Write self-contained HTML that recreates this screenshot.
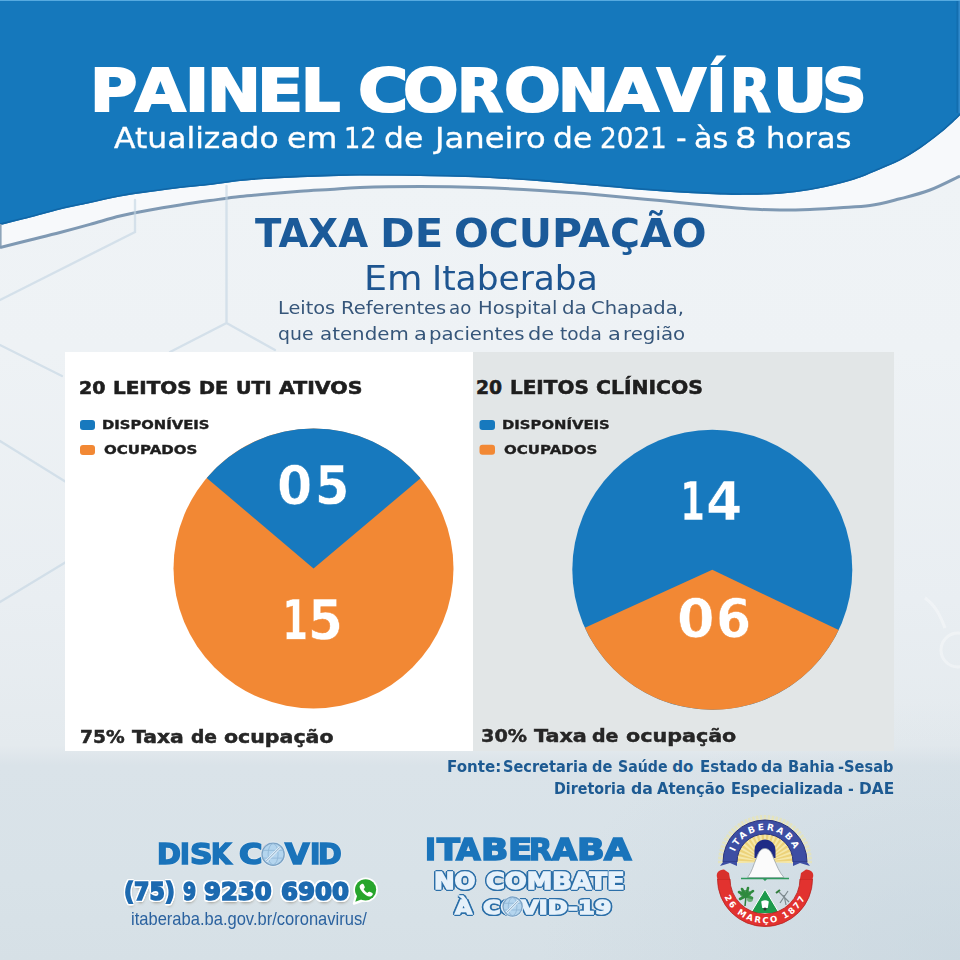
<!DOCTYPE html>
<html lang="pt-BR"><head><meta charset="utf-8"><title>Painel Coronavírus</title>
<style>
*{margin:0;padding:0;box-sizing:border-box}
html,body{width:960px;height:960px;overflow:hidden}
body{position:relative;background:radial-gradient(ellipse 420px 260px at 960px 960px,rgba(196,211,221,0.55),rgba(196,211,221,0) 100%),linear-gradient(180deg,#f0f4f7 0px,#eef2f5 350px,#e9eef2 600px,#e4eaee 745px,#dae3e9 765px,#d8e2e8 880px,#d6e0e6 960px);font-family:"Liberation Sans",sans-serif}
.t{position:absolute;white-space:nowrap;transform-origin:0 0}
svg.full{position:absolute;left:0;top:0}
.card{position:absolute}
</style></head><body>
<svg class="full" width="960" height="960" viewBox="0 0 960 960">
<path d="M0,225 C5.0,223.8 20.0,220.1 30.0,217.5 C40.0,214.9 50.0,211.9 60.0,209.5 C70.0,207.1 80.0,205.2 90.0,203.0 C100.0,200.8 110.0,198.3 120.0,196.5 C130.0,194.7 140.0,193.4 150.0,192.0 C160.0,190.6 170.0,189.2 180.0,188.0 C190.0,186.8 200.0,186.2 210.0,185.0 C220.0,183.8 230.0,182.0 240.0,181.0 C250.0,180.0 260.0,179.4 270.0,178.8 C280.0,178.1 290.0,177.7 300.0,177.2 C310.0,176.8 320.0,176.5 330.0,176.2 C340.0,176.0 345.0,175.6 360.0,175.6 C375.0,175.6 400.0,175.7 420.0,176.0 C440.0,176.3 460.0,176.6 480.0,177.5 C500.0,178.4 520.0,179.8 540.0,181.2 C560.0,182.7 580.0,184.6 600.0,186.2 C620.0,187.9 640.0,189.9 660.0,191.2 C680.0,192.6 705.0,193.8 720.0,194.4 C735.0,195.0 740.0,194.9 750.0,194.8 C760.0,194.6 770.0,194.5 780.0,193.8 C790.0,193.0 800.0,191.7 810.0,190.0 C820.0,188.3 831.7,185.6 840.0,183.5 C848.3,181.4 853.3,179.9 860.0,177.5 C866.7,175.1 873.3,172.0 880.0,169.2 C886.7,166.3 893.3,163.9 900.0,160.4 C906.7,156.9 913.3,152.8 920.0,148.3 C926.7,143.8 934.2,138.0 940.0,133.3 C945.8,128.6 951.7,123.0 955.0,120.0 C958.3,117.0 959.2,115.8 960.0,115.0 L960,176 C955.0,178.3 940.0,186.2 930.0,190.0 C920.0,193.8 910.0,196.2 900.0,198.8 C890.0,201.3 880.0,204.1 870.0,205.6 C860.0,207.1 850.0,207.1 840.0,207.7 C830.0,208.3 820.0,209.0 810.0,209.4 C800.0,209.8 790.0,210.1 780.0,210.0 C770.0,209.9 760.0,209.6 750.0,209.0 C740.0,208.4 735.0,208.0 720.0,206.6 C705.0,205.2 680.0,202.5 660.0,200.6 C640.0,198.7 620.0,196.7 600.0,195.0 C580.0,193.3 560.0,191.8 540.0,190.6 C520.0,189.3 500.0,188.2 480.0,187.5 C460.0,186.8 440.0,186.5 420.0,186.5 C400.0,186.5 375.0,186.9 360.0,187.4 C345.0,187.9 340.0,188.8 330.0,189.4 C320.0,190.0 310.0,190.5 300.0,191.2 C290.0,192.0 280.0,192.9 270.0,193.8 C260.0,194.6 250.0,195.4 240.0,196.5 C230.0,197.6 220.0,199.2 210.0,200.6 C200.0,202.0 190.0,203.4 180.0,205.0 C170.0,206.6 160.0,208.2 150.0,210.0 C140.0,211.8 130.0,213.6 120.0,216.0 C110.0,218.4 100.0,221.7 90.0,224.4 C80.0,227.2 70.0,229.9 60.0,232.5 C50.0,235.1 40.0,237.5 30.0,240.0 C20.0,242.5 5.0,246.2 0.0,247.5 Z" fill="#f7f9fb"/>
<path d="M0,0 L960,0 L960,115 L960,115 C959.2,115.8 958.3,117.0 955.0,120.0 C951.7,123.0 945.8,128.6 940.0,133.3 C934.2,138.0 926.7,143.8 920.0,148.3 C913.3,152.8 906.7,156.9 900.0,160.4 C893.3,163.9 886.7,166.3 880.0,169.2 C873.3,172.0 866.7,175.1 860.0,177.5 C853.3,179.9 848.3,181.4 840.0,183.5 C831.7,185.6 820.0,188.3 810.0,190.0 C800.0,191.7 790.0,193.0 780.0,193.8 C770.0,194.5 760.0,194.6 750.0,194.8 C740.0,194.9 735.0,195.0 720.0,194.4 C705.0,193.8 680.0,192.6 660.0,191.2 C640.0,189.9 620.0,187.9 600.0,186.2 C580.0,184.6 560.0,182.7 540.0,181.2 C520.0,179.8 500.0,178.4 480.0,177.5 C460.0,176.6 440.0,176.3 420.0,176.0 C400.0,175.7 375.0,175.6 360.0,175.6 C345.0,175.6 340.0,176.0 330.0,176.2 C320.0,176.5 310.0,176.8 300.0,177.2 C290.0,177.7 280.0,178.1 270.0,178.8 C260.0,179.4 250.0,180.0 240.0,181.0 C230.0,182.0 220.0,183.8 210.0,185.0 C200.0,186.2 190.0,186.8 180.0,188.0 C170.0,189.2 160.0,190.6 150.0,192.0 C140.0,193.4 130.0,194.7 120.0,196.5 C110.0,198.3 100.0,200.8 90.0,203.0 C80.0,205.2 70.0,207.1 60.0,209.5 C50.0,211.9 40.0,214.9 30.0,217.5 C20.0,220.1 5.0,223.8 0.0,225.0 Z" fill="#1578bc"/>
<path d="M0,224.2 C5.0,222.9 20.0,219.3 30.0,216.7 C40.0,214.1 50.0,211.1 60.0,208.7 C70.0,206.3 80.0,204.4 90.0,202.2 C100.0,200.0 110.0,197.5 120.0,195.7 C130.0,193.9 140.0,192.6 150.0,191.2 C160.0,189.8 170.0,188.4 180.0,187.2 C190.0,186.0 200.0,185.4 210.0,184.2 C220.0,183.0 230.0,181.2 240.0,180.2 C250.0,179.2 260.0,178.6 270.0,177.9 C280.0,177.3 290.0,176.9 300.0,176.4 C310.0,176.0 320.0,175.7 330.0,175.4 C340.0,175.2 345.0,174.8 360.0,174.8 C375.0,174.8 400.0,174.9 420.0,175.2 C440.0,175.5 460.0,175.8 480.0,176.7 C500.0,177.6 520.0,179.0 540.0,180.4 C560.0,181.9 580.0,183.8 600.0,185.4 C620.0,187.1 640.0,189.1 660.0,190.4 C680.0,191.8 705.0,193.0 720.0,193.6 C735.0,194.2 740.0,194.1 750.0,193.9 C760.0,193.8 770.0,193.7 780.0,192.9 C790.0,192.2 800.0,190.9 810.0,189.2 C820.0,187.5 831.7,184.8 840.0,182.7 C848.3,180.6 853.3,179.1 860.0,176.7 C866.7,174.3 873.3,171.2 880.0,168.4 C886.7,165.5 893.3,163.1 900.0,159.6 C906.7,156.1 913.3,152.0 920.0,147.5 C926.7,143.0 934.2,137.2 940.0,132.5 C945.8,127.8 951.7,122.2 955.0,119.2 C958.3,116.2 959.2,115.0 960.0,114.2" fill="none" stroke="#1166a6" stroke-width="1.6"/>
<rect x="0" y="0" width="960" height="1" fill="#56aae0"/>
<rect x="956.5" y="1" width="2" height="112" fill="#1268a6" opacity="0.6"/>
<rect x="958.5" y="1" width="1.5" height="112" fill="#3f92d2" opacity="0.7"/>
<rect x="0" y="224" width="1.6" height="23" fill="#8ea5ba"/>
<path d="M0,247.5 C5.0,246.2 20.0,242.5 30.0,240.0 C40.0,237.5 50.0,235.1 60.0,232.5 C70.0,229.9 80.0,227.2 90.0,224.4 C100.0,221.7 110.0,218.4 120.0,216.0 C130.0,213.6 140.0,211.8 150.0,210.0 C160.0,208.2 170.0,206.6 180.0,205.0 C190.0,203.4 200.0,202.0 210.0,200.6 C220.0,199.2 230.0,197.6 240.0,196.5 C250.0,195.4 260.0,194.6 270.0,193.8 C280.0,192.9 290.0,192.0 300.0,191.2 C310.0,190.5 320.0,190.0 330.0,189.4 C340.0,188.8 345.0,187.9 360.0,187.4 C375.0,186.9 400.0,186.5 420.0,186.5 C440.0,186.5 460.0,186.8 480.0,187.5 C500.0,188.2 520.0,189.3 540.0,190.6 C560.0,191.8 580.0,193.3 600.0,195.0 C620.0,196.7 640.0,198.7 660.0,200.6 C680.0,202.5 705.0,205.2 720.0,206.6 C735.0,208.0 740.0,208.4 750.0,209.0 C760.0,209.6 770.0,209.9 780.0,210.0 C790.0,210.1 800.0,209.8 810.0,209.4 C820.0,209.0 830.0,208.3 840.0,207.7 C850.0,207.1 860.0,207.1 870.0,205.6 C880.0,204.1 890.0,201.3 900.0,198.8 C910.0,196.2 920.0,193.8 930.0,190.0 C940.0,186.2 955.0,178.3 960.0,176.0" fill="none" stroke="#7f99b3" stroke-width="3"/>
</svg>
<svg class="full" width="960" height="960" viewBox="0 0 960 960">
<defs><filter id="bl" x="-10%" y="-10%" width="120%" height="120%"><feGaussianBlur stdDeviation="0.7"/></filter></defs>
<g fill="none" stroke="#c3d5e3" stroke-width="2.4" opacity="0.6" stroke-linecap="round" filter="url(#bl)">
<path d="M226.5,186 L226.5,323 L170,352 M226.5,323 L275,350"/>
<path d="M135,200 L135,232 L0,300"/>
<path d="M0,345 L62,376"/>
<path d="M0,602 L66,562"/>
<path d="M0,441 L66,482"/>
</g>
<g fill="none" stroke="#ffffff" opacity="0.35" filter="url(#bl)">
<circle cx="958" cy="650" r="17" stroke-width="3"/>
<path d="M925,598 C935,605 940,615 945,628" stroke-width="3"/>
</g>

</svg>
<div class="card" style="left:65px;top:352px;width:408px;height:399px;background:#fff"></div>
<div class="card" style="left:473px;top:352px;width:421px;height:399px;background:#e2e6e7"></div>
<svg class="full" width="960" height="960" viewBox="0 0 960 960">
<circle cx="313.5" cy="568.5" r="140" fill="#f28834"/><path d="M313.5,568.5 L206.73,477.95 A140,140 0 0 1 420.59,478.32 Z" fill="#1779be"/><circle cx="712.3" cy="569.8" r="140" fill="#1779be"/><path d="M712.3,569.8 L838.66,630.07 A140,140 0 0 1 584.91,627.86 Z" fill="#f28834"/>
<rect x="80" y="420" width="15" height="10" rx="3" fill="#1779be"/>
<rect x="80" y="445" width="15" height="10" rx="3" fill="#f28834"/>
<rect x="479.5" y="420" width="15.5" height="10" rx="3" fill="#1779be"/>
<rect x="479.5" y="444.7" width="15.5" height="10" rx="3" fill="#f28834"/>
</svg>
<div class="t" id="t1_0" style="left:89.84px;top:61.95px;font:700 58.63px/1 'DejaVu Sans',sans-serif;color:#fff;transform:scaleX(1.1013);-webkit-text-stroke:2px #fff;">P</div>
<div class="t" id="t1_1" style="left:135.37px;top:61.95px;font:700 58.63px/1 'DejaVu Sans',sans-serif;color:#fff;transform:scaleX(1.117);-webkit-text-stroke:2px #fff;">A</div>
<div class="t" id="t1_2" style="left:185.48px;top:61.95px;font:700 58.63px/1 'DejaVu Sans',sans-serif;color:#fff;transform:scaleX(1.1038);-webkit-text-stroke:2px #fff;">I</div>
<div class="t" id="t1_3" style="left:206.86px;top:61.95px;font:700 58.63px/1 'DejaVu Sans',sans-serif;color:#fff;transform:scaleX(1.0976);-webkit-text-stroke:2px #fff;">N</div>
<div class="t" id="t1_4" style="left:257.28px;top:61.95px;font:700 58.63px/1 'DejaVu Sans',sans-serif;color:#fff;transform:scaleX(1.1545);-webkit-text-stroke:2px #fff;">E</div>
<div class="t" id="t1_5" style="left:300.78px;top:61.95px;font:700 58.63px/1 'DejaVu Sans',sans-serif;color:#fff;transform:scaleX(1.0545);-webkit-text-stroke:2px #fff;">L</div>
<div class="t" id="t1_6" style="left:358.26px;top:61.95px;font:700 58.63px/1 'DejaVu Sans',sans-serif;color:#fff;transform:scaleX(1.1684);-webkit-text-stroke:2px #fff;">C</div>
<div class="t" id="t1_7" style="left:402.77px;top:61.95px;font:700 58.63px/1 'DejaVu Sans',sans-serif;color:#fff;transform:scaleX(1.1141);-webkit-text-stroke:2px #fff;">O</div>
<div class="t" id="t1_8" style="left:457.17px;top:61.95px;font:700 58.63px/1 'DejaVu Sans',sans-serif;color:#fff;transform:scaleX(1.0207);-webkit-text-stroke:2px #fff;">R</div>
<div class="t" id="t1_9" style="left:503.97px;top:61.95px;font:700 58.63px/1 'DejaVu Sans',sans-serif;color:#fff;transform:scaleX(1.1413);-webkit-text-stroke:2px #fff;">O</div>
<div class="t" id="t1_10" style="left:557.75px;top:61.95px;font:700 58.63px/1 'DejaVu Sans',sans-serif;color:#fff;transform:scaleX(1.0366);-webkit-text-stroke:2px #fff;">N</div>
<div class="t" id="t1_11" style="left:607.39px;top:61.95px;font:700 58.63px/1 'DejaVu Sans',sans-serif;color:#fff;transform:scaleX(1.1436);-webkit-text-stroke:2px #fff;">A</div>
<div class="t" id="t1_12" style="left:657.33px;top:61.95px;font:700 58.63px/1 'DejaVu Sans',sans-serif;color:#fff;transform:scaleX(1.0777);-webkit-text-stroke:2px #fff;">V</div>
<div class="t" id="t1_13" style="left:706.54px;top:61.95px;font:700 58.63px/1 'DejaVu Sans',sans-serif;color:#fff;transform:scaleX(0.8654);-webkit-text-stroke:2px #fff;">Í</div>
<div class="t" id="t1_14" style="left:729.5px;top:61.95px;font:700 58.63px/1 'DejaVu Sans',sans-serif;color:#fff;transform:scaleX(0.9);-webkit-text-stroke:2px #fff;">R</div>
<div class="t" id="t1_15" style="left:772.95px;top:61.95px;font:700 58.63px/1 'DejaVu Sans',sans-serif;color:#fff;transform:scaleX(1.1385);-webkit-text-stroke:2px #fff;">U</div>
<div class="t" id="t1_16" style="left:822.42px;top:61.95px;font:700 58.63px/1 'DejaVu Sans',sans-serif;color:#fff;transform:scaleX(1.0597);-webkit-text-stroke:2px #fff;">S</div>
<div class="t" id="t2_0" style="left:113.75px;top:124.49px;font:400 28.97px/1 'DejaVu Sans',sans-serif;color:#fff;transform:scaleX(1.0844);-webkit-text-stroke:0.35px #fff;">Atualizado</div>
<div class="t" id="t2_1" style="left:287.01px;top:124.49px;font:400 28.97px/1 'DejaVu Sans',sans-serif;color:#fff;transform:scaleX(1.0907);-webkit-text-stroke:0.35px #fff;">em</div>
<div class="t" id="t2_2" style="left:344.24px;top:124.49px;font:400 28.97px/1 'DejaVu Sans',sans-serif;color:#fff;transform:scaleX(0.8871);-webkit-text-stroke:0.35px #fff;">12</div>
<div class="t" id="t2_3" style="left:383.91px;top:124.49px;font:400 28.97px/1 'DejaVu Sans',sans-serif;color:#fff;transform:scaleX(1.0853);-webkit-text-stroke:0.35px #fff;">de</div>
<div class="t" id="t2_4" style="left:434.72px;top:124.49px;font:400 28.97px/1 'DejaVu Sans',sans-serif;color:#fff;transform:scaleX(1.1125);-webkit-text-stroke:0.35px #fff;">Janeiro</div>
<div class="t" id="t2_5" style="left:553.32px;top:124.49px;font:400 28.97px/1 'DejaVu Sans',sans-serif;color:#fff;transform:scaleX(1.0838);-webkit-text-stroke:0.35px #fff;">de</div>
<div class="t" id="t2_6" style="left:600.09px;top:124.49px;font:400 28.97px/1 'DejaVu Sans',sans-serif;color:#fff;transform:scaleX(0.9058);-webkit-text-stroke:0.35px #fff;">2021</div>
<div class="t" id="t2_7" style="left:676.49px;top:124.49px;font:400 28.97px/1 'DejaVu Sans',sans-serif;color:#fff;transform:scaleX(1.0125);-webkit-text-stroke:0.35px #fff;">-</div>
<div class="t" id="t2_8" style="left:694.17px;top:124.49px;font:400 28.97px/1 'DejaVu Sans',sans-serif;color:#fff;transform:scaleX(1.0417);-webkit-text-stroke:0.35px #fff;">às</div>
<div class="t" id="t2_9" style="left:735.17px;top:124.49px;font:400 28.97px/1 'DejaVu Sans',sans-serif;color:#fff;transform:scaleX(1.1667);-webkit-text-stroke:0.35px #fff;">8</div>
<div class="t" id="t2_10" style="left:765.98px;top:124.49px;font:400 28.97px/1 'DejaVu Sans',sans-serif;color:#fff;transform:scaleX(1.0577);-webkit-text-stroke:0.35px #fff;">horas</div>
<div class="t" id="t3_0" style="left:255.0px;top:214.42px;font:700 39.38px/1 'DejaVu Sans',sans-serif;color:#1b5a99;transform:scaleX(0.9826);">TAXA</div>
<div class="t" id="t3_1" style="left:380.16px;top:214.42px;font:700 39.38px/1 'DejaVu Sans',sans-serif;color:#1b5a99;transform:scaleX(1.0604);">DE</div>
<div class="t" id="t3_2" style="left:454.17px;top:214.42px;font:700 39.38px/1 'DejaVu Sans',sans-serif;color:#1b5a99;transform:scaleX(1.04);">OCUPAÇÃO</div>
<div class="t" id="t4_0" style="left:363.59px;top:261.97px;font:400 33.01px/1 'DejaVu Sans',sans-serif;color:#1e5590;transform:scaleX(1.1032);">Em</div>
<div class="t" id="t4_1" style="left:432.47px;top:261.97px;font:400 33.01px/1 'DejaVu Sans',sans-serif;color:#1e5590;transform:scaleX(1.0418);">Itaberaba</div>
<div class="t" id="t5_0" style="left:278.03px;top:299.24px;font:400 17.81px/1 'DejaVu Sans',sans-serif;color:#36567a;transform:scaleX(1.084);">Leitos</div>
<div class="t" id="t5_1" style="left:340.51px;top:299.24px;font:400 17.81px/1 'DejaVu Sans',sans-serif;color:#36567a;transform:scaleX(1.0946);">Referentes</div>
<div class="t" id="t5_2" style="left:449.21px;top:299.24px;font:400 17.81px/1 'DejaVu Sans',sans-serif;color:#36567a;transform:scaleX(1.0222);">ao</div>
<div class="t" id="t5_3" style="left:477.91px;top:299.24px;font:400 17.81px/1 'DejaVu Sans',sans-serif;color:#36567a;transform:scaleX(1.0942);">Hospital</div>
<div class="t" id="t5_4" style="left:562.39px;top:299.24px;font:400 17.81px/1 'DejaVu Sans',sans-serif;color:#36567a;transform:scaleX(1.11);">da</div>
<div class="t" id="t5_5" style="left:591.4px;top:299.24px;font:400 17.81px/1 'DejaVu Sans',sans-serif;color:#36567a;transform:scaleX(1.0976);">Chapada,</div>
<div class="t" id="t6_0" style="left:277.54px;top:324.64px;font:400 17.81px/1 'DejaVu Sans',sans-serif;color:#36567a;transform:scaleX(1.0594);">que</div>
<div class="t" id="t6_1" style="left:319.69px;top:324.64px;font:400 17.81px/1 'DejaVu Sans',sans-serif;color:#36567a;transform:scaleX(1.113);">atendem</div>
<div class="t" id="t6_2" style="left:413.63px;top:324.64px;font:400 17.81px/1 'DejaVu Sans',sans-serif;color:#36567a;transform:scaleX(1.1746);">a</div>
<div class="t" id="t6_3" style="left:429.29px;top:324.64px;font:400 17.81px/1 'DejaVu Sans',sans-serif;color:#36567a;transform:scaleX(1.106);">pacientes</div>
<div class="t" id="t6_4" style="left:527.83px;top:324.64px;font:400 17.81px/1 'DejaVu Sans',sans-serif;color:#36567a;transform:scaleX(1.1746);">de</div>
<div class="t" id="t6_5" style="left:560.39px;top:324.64px;font:400 17.81px/1 'DejaVu Sans',sans-serif;color:#36567a;transform:scaleX(1.0416);">toda</div>
<div class="t" id="t6_6" style="left:607.93px;top:324.64px;font:400 17.81px/1 'DejaVu Sans',sans-serif;color:#36567a;transform:scaleX(1.1746);">a</div>
<div class="t" id="t6_7" style="left:622.78px;top:324.64px;font:400 17.81px/1 'DejaVu Sans',sans-serif;color:#36567a;transform:scaleX(1.1113);">região</div>
<div class="t" id="c1_0" style="left:78.66px;top:378.7px;font:700 18.22px/1 'DejaVu Sans',sans-serif;color:#1e1e1e;transform:scaleX(1.0417);-webkit-text-stroke:0.6px #1e1e1e;">20</div>
<div class="t" id="c1_1" style="left:112.91px;top:378.7px;font:700 18.22px/1 'DejaVu Sans',sans-serif;color:#1e1e1e;transform:scaleX(1.0943);-webkit-text-stroke:0.6px #1e1e1e;">LEITOS</div>
<div class="t" id="c1_2" style="left:198.94px;top:378.7px;font:700 18.22px/1 'DejaVu Sans',sans-serif;color:#1e1e1e;transform:scaleX(1.0577);-webkit-text-stroke:0.6px #1e1e1e;">DE</div>
<div class="t" id="c1_3" style="left:235.85px;top:378.7px;font:700 18.22px/1 'DejaVu Sans',sans-serif;color:#1e1e1e;transform:scaleX(1.05);-webkit-text-stroke:0.6px #1e1e1e;">UTI</div>
<div class="t" id="c1_4" style="left:279.0px;top:378.7px;font:700 18.22px/1 'DejaVu Sans',sans-serif;color:#1e1e1e;transform:scaleX(1.1233);-webkit-text-stroke:0.6px #1e1e1e;">ATIVOS</div>
<div class="t" id="c2" style="left:102.13px;top:418.61px;font:700 12.6px/1 'DejaVu Sans',sans-serif;color:#1e1e1e;transform:scaleX(1.1744);-webkit-text-stroke:0.4px #1e1e1e;">DISPONÍVEIS</div>
<div class="t" id="c3" style="left:103.5px;top:443.78px;font:700 12.88px/1 'DejaVu Sans',sans-serif;color:#1e1e1e;transform:scaleX(1.1684);-webkit-text-stroke:0.4px #1e1e1e;">OCUPADOS</div>
<div class="t" id="c4_0" style="left:476.0px;top:378.54px;font:700 18.77px/1 'DejaVu Sans',sans-serif;color:#1e1e1e;transform:scaleX(1.0);-webkit-text-stroke:0.6px #1e1e1e;text-shadow:0 0 1.5px rgba(255,255,255,.9),0 0 1px rgba(255,255,255,.9);">20</div>
<div class="t" id="c4_1" style="left:510.34px;top:378.54px;font:700 18.77px/1 'DejaVu Sans',sans-serif;color:#1e1e1e;transform:scaleX(1.0639);-webkit-text-stroke:0.6px #1e1e1e;text-shadow:0 0 1.5px rgba(255,255,255,.9),0 0 1px rgba(255,255,255,.9);">LEITOS</div>
<div class="t" id="c4_2" style="left:595.72px;top:378.54px;font:700 18.77px/1 'DejaVu Sans',sans-serif;color:#1e1e1e;transform:scaleX(1.0845);-webkit-text-stroke:0.6px #1e1e1e;text-shadow:0 0 1.5px rgba(255,255,255,.9),0 0 1px rgba(255,255,255,.9);">CLÍNICOS</div>
<div class="t" id="c5" style="left:501.65px;top:418.58px;font:700 12.88px/1 'DejaVu Sans',sans-serif;color:#1e1e1e;transform:scaleX(1.1522);-webkit-text-stroke:0.4px #1e1e1e;text-shadow:0 0 1.5px rgba(255,255,255,.9),0 0 1px rgba(255,255,255,.9);">DISPONÍVEIS</div>
<div class="t" id="c6" style="left:503.5px;top:443.58px;font:700 12.88px/1 'DejaVu Sans',sans-serif;color:#1e1e1e;transform:scaleX(1.1671);-webkit-text-stroke:0.4px #1e1e1e;text-shadow:0 0 1.5px rgba(255,255,255,.9),0 0 1px rgba(255,255,255,.9);">OCUPADOS</div>
<div class="t" id="n1_0" style="left:277.19px;top:459.05px;font:700 54.11px/1 'DejaVu Sans',sans-serif;color:#fff;transform:scaleX(0.9375);-webkit-text-stroke:0.5px #1779be;">0</div>
<div class="t" id="n1_1" style="left:315.08px;top:459.05px;font:700 54.11px/1 'DejaVu Sans',sans-serif;color:#fff;transform:scaleX(0.9167);-webkit-text-stroke:0.5px #1779be;">5</div>
<div class="t" id="n2_0" style="left:282.1px;top:592.79px;font:700 54.66px/1 'DejaVu Sans',sans-serif;color:#fff;transform:scaleX(0.6911);-webkit-text-stroke:0.5px #f28834;">1</div>
<div class="t" id="n2_1" style="left:307.58px;top:592.79px;font:700 54.66px/1 'DejaVu Sans',sans-serif;color:#fff;transform:scaleX(0.9167);-webkit-text-stroke:0.5px #f28834;">5</div>
<div class="t" id="n3_0" style="left:680.39px;top:474.66px;font:700 53.97px/1 'DejaVu Sans',sans-serif;color:#fff;transform:scaleX(0.6679);-webkit-text-stroke:0.5px #1779be;">1</div>
<div class="t" id="n3_1" style="left:706.17px;top:474.66px;font:700 53.97px/1 'DejaVu Sans',sans-serif;color:#fff;transform:scaleX(0.9667);-webkit-text-stroke:0.5px #1779be;">4</div>
<div class="t" id="n4_0" style="left:676.95px;top:593.44px;font:700 53.29px/1 'DejaVu Sans',sans-serif;color:#fff;transform:scaleX(1.0156);-webkit-text-stroke:0.5px #f28834;">0</div>
<div class="t" id="n4_1" style="left:715.91px;top:593.44px;font:700 53.29px/1 'DejaVu Sans',sans-serif;color:#fff;transform:scaleX(0.9468);-webkit-text-stroke:0.5px #f28834;">6</div>
<div class="t" id="p1_0" style="left:79.5px;top:727.66px;font:700 18.08px/1 'DejaVu Sans',sans-serif;color:#262626;transform:scaleX(1.0308);-webkit-text-stroke:0.5px #262626;">75%</div>
<div class="t" id="p1_1" style="left:131.9px;top:727.66px;font:700 18.08px/1 'DejaVu Sans',sans-serif;color:#262626;transform:scaleX(1.1244);-webkit-text-stroke:0.5px #262626;">Taxa</div>
<div class="t" id="p1_2" style="left:190.67px;top:727.66px;font:700 18.08px/1 'DejaVu Sans',sans-serif;color:#262626;transform:scaleX(1.0308);-webkit-text-stroke:0.5px #262626;">de</div>
<div class="t" id="p1_3" style="left:224.47px;top:727.66px;font:700 18.08px/1 'DejaVu Sans',sans-serif;color:#262626;transform:scaleX(1.1347);-webkit-text-stroke:0.5px #262626;">ocupação</div>
<div class="t" id="p2_0" style="left:481.19px;top:727.45px;font:700 18.22px/1 'DejaVu Sans',sans-serif;color:#262626;transform:scaleX(1.056);-webkit-text-stroke:0.5px #262626;text-shadow:0 0 1.5px rgba(255,255,255,.9),0 0 1px rgba(255,255,255,.9);">30%</div>
<div class="t" id="p2_1" style="left:534.1px;top:727.45px;font:700 18.22px/1 'DejaVu Sans',sans-serif;color:#262626;transform:scaleX(1.14);-webkit-text-stroke:0.5px #262626;text-shadow:0 0 1.5px rgba(255,255,255,.9),0 0 1px rgba(255,255,255,.9);">Taxa</div>
<div class="t" id="p2_2" style="left:592.44px;top:727.45px;font:700 18.22px/1 'DejaVu Sans',sans-serif;color:#262626;transform:scaleX(1.0429);-webkit-text-stroke:0.5px #262626;text-shadow:0 0 1.5px rgba(255,255,255,.9),0 0 1px rgba(255,255,255,.9);">de</div>
<div class="t" id="p2_3" style="left:626.37px;top:727.45px;font:700 18.22px/1 'DejaVu Sans',sans-serif;color:#262626;transform:scaleX(1.1354);-webkit-text-stroke:0.5px #262626;text-shadow:0 0 1.5px rgba(255,255,255,.9),0 0 1px rgba(255,255,255,.9);">ocupação</div>
<div class="t" id="f1_0" style="left:447.1px;top:760.34px;font:700 15.07px/1 'DejaVu Sans',sans-serif;color:#1d5a92;transform:scaleX(1.002);">Fonte:</div>
<div class="t" id="f1_1" style="left:502.94px;top:760.34px;font:700 15.07px/1 'DejaVu Sans',sans-serif;color:#1d5a92;transform:scaleX(0.9651);">Secretaria</div>
<div class="t" id="f1_2" style="left:591.63px;top:760.34px;font:700 15.07px/1 'DejaVu Sans',sans-serif;color:#1d5a92;transform:scaleX(0.9684);">de</div>
<div class="t" id="f1_3" style="left:617.81px;top:760.34px;font:700 15.07px/1 'DejaVu Sans',sans-serif;color:#1d5a92;transform:scaleX(0.9402);">Saúde</div>
<div class="t" id="f1_4" style="left:672.3px;top:760.34px;font:700 15.07px/1 'DejaVu Sans',sans-serif;color:#1d5a92;transform:scaleX(1.0);">do</div>
<div class="t" id="f1_5" style="left:699.9px;top:760.34px;font:700 15.07px/1 'DejaVu Sans',sans-serif;color:#1d5a92;transform:scaleX(0.9964);">Estado</div>
<div class="t" id="f1_6" style="left:760.91px;top:760.34px;font:700 15.07px/1 'DejaVu Sans',sans-serif;color:#1d5a92;transform:scaleX(1.0374);">da</div>
<div class="t" id="f1_7" style="left:787.77px;top:760.34px;font:700 15.07px/1 'DejaVu Sans',sans-serif;color:#1d5a92;transform:scaleX(0.9783);">Bahia</div>
<div class="t" id="f1_8" style="left:838.43px;top:760.34px;font:700 15.07px/1 'DejaVu Sans',sans-serif;color:#1d5a92;transform:scaleX(0.9705);">-Sesab</div>
<div class="t" id="f2_0" style="left:554.08px;top:781.8px;font:700 15.48px/1 'DejaVu Sans',sans-serif;color:#1d5a92;transform:scaleX(0.9211);">Diretoria</div>
<div class="t" id="f2_1" style="left:630.92px;top:781.8px;font:700 15.48px/1 'DejaVu Sans',sans-serif;color:#1d5a92;transform:scaleX(1.0146);">da</div>
<div class="t" id="f2_2" style="left:656.5px;top:781.8px;font:700 15.48px/1 'DejaVu Sans',sans-serif;color:#1d5a92;transform:scaleX(0.9563);">Atenção</div>
<div class="t" id="f2_3" style="left:730.95px;top:781.8px;font:700 15.48px/1 'DejaVu Sans',sans-serif;color:#1d5a92;transform:scaleX(0.9534);">Especializada</div>
<div class="t" id="f2_4" style="left:847.78px;top:781.8px;font:700 15.48px/1 'DejaVu Sans',sans-serif;color:#1d5a92;transform:scaleX(0.8998);">-</div>
<div class="t" id="f2_5" style="left:859.01px;top:781.8px;font:700 15.48px/1 'DejaVu Sans',sans-serif;color:#1d5a92;transform:scaleX(0.9939);">DAE</div>
<div class="t" id="d1_0" style="left:156.82px;top:840.56px;font:700 27.67px/1 'DejaVu Sans',sans-serif;color:#1a73ba;transform:scaleX(1.04);-webkit-text-stroke:1.6px #1a73ba;text-shadow:0 0 2px #fff,0 0 2px #fff;">D</div>
<div class="t" id="d1_1" style="left:179.89px;top:840.56px;font:700 27.67px/1 'DejaVu Sans',sans-serif;color:#1a73ba;transform:scaleX(0.9571);-webkit-text-stroke:1.6px #1a73ba;text-shadow:0 0 2px #fff,0 0 2px #fff;">I</div>
<div class="t" id="d1_2" style="left:189.97px;top:840.56px;font:700 27.67px/1 'DejaVu Sans',sans-serif;color:#1a73ba;transform:scaleX(1.1333);-webkit-text-stroke:1.6px #1a73ba;text-shadow:0 0 2px #fff,0 0 2px #fff;">S</div>
<div class="t" id="d1_3" style="left:210.61px;top:840.56px;font:700 27.67px/1 'DejaVu Sans',sans-serif;color:#1a73ba;transform:scaleX(0.9455);-webkit-text-stroke:1.6px #1a73ba;text-shadow:0 0 2px #fff,0 0 2px #fff;">K</div>
<div class="t" id="d1_4" style="left:239.34px;top:840.56px;font:700 27.67px/1 'DejaVu Sans',sans-serif;color:#1a73ba;transform:scaleX(1.1556);-webkit-text-stroke:1.6px #1a73ba;text-shadow:0 0 2px #fff,0 0 2px #fff;">C</div>
<div class="t" id="d1_5" style="left:261.0px;top:840.56px;font:700 27.67px/1 'DejaVu Sans',sans-serif;color:#1a73ba;transform:scaleX(1.0);-webkit-text-stroke:1.6px #1a73ba;text-shadow:0 0 2px #fff,0 0 2px #fff;">O</div>
<div class="t" id="d1_6" style="left:285.44px;top:840.56px;font:700 27.67px/1 'DejaVu Sans',sans-serif;color:#1a73ba;transform:scaleX(1.1435);-webkit-text-stroke:1.6px #1a73ba;text-shadow:0 0 2px #fff,0 0 2px #fff;">V</div>
<div class="t" id="d1_7" style="left:309.67px;top:840.56px;font:700 27.67px/1 'DejaVu Sans',sans-serif;color:#1a73ba;transform:scaleX(1.0143);-webkit-text-stroke:1.6px #1a73ba;text-shadow:0 0 2px #fff,0 0 2px #fff;">I</div>
<div class="t" id="d1_8" style="left:318.34px;top:840.56px;font:700 27.67px/1 'DejaVu Sans',sans-serif;color:#1a73ba;transform:scaleX(1.03);-webkit-text-stroke:1.6px #1a73ba;text-shadow:0 0 2px #fff,0 0 2px #fff;">D</div>
<div class="t" id="d2_0" style="left:124.32px;top:878.89px;font:700 25.07px/1 'DejaVu Sans',sans-serif;color:#1d6ab0;transform:scaleX(0.8821);-webkit-text-stroke:1.7px #1d6ab0;text-shadow:2.40px 0.00px 0 #fff,2.22px 0.92px 0 #fff,1.70px 1.70px 0 #fff,0.92px 2.22px 0 #fff,0.00px 2.40px 0 #fff,-0.92px 2.22px 0 #fff,-1.70px 1.70px 0 #fff,-2.22px 0.92px 0 #fff,-2.40px 0.00px 0 #fff,-2.22px -0.92px 0 #fff,-1.70px -1.70px 0 #fff,-0.92px -2.22px 0 #fff,-0.00px -2.40px 0 #fff,0.92px -2.22px 0 #fff,1.70px -1.70px 0 #fff,2.22px -0.92px 0 #fff,1px 3px 3px rgba(90,70,40,.45);">(75)</div>
<div class="t" id="d2_1" style="left:183.4px;top:878.89px;font:700 25.07px/1 'DejaVu Sans',sans-serif;color:#1d6ab0;transform:scaleX(0.7529);-webkit-text-stroke:1.7px #1d6ab0;text-shadow:2.40px 0.00px 0 #fff,2.22px 0.92px 0 #fff,1.70px 1.70px 0 #fff,0.92px 2.22px 0 #fff,0.00px 2.40px 0 #fff,-0.92px 2.22px 0 #fff,-1.70px 1.70px 0 #fff,-2.22px 0.92px 0 #fff,-2.40px 0.00px 0 #fff,-2.22px -0.92px 0 #fff,-1.70px -1.70px 0 #fff,-0.92px -2.22px 0 #fff,-0.00px -2.40px 0 #fff,0.92px -2.22px 0 #fff,1.70px -1.70px 0 #fff,2.22px -0.92px 0 #fff,1px 3px 3px rgba(90,70,40,.45);">9</div>
<div class="t" id="d2_2" style="left:204.4px;top:878.89px;font:700 25.07px/1 'DejaVu Sans',sans-serif;color:#1d6ab0;transform:scaleX(0.9696);-webkit-text-stroke:1.7px #1d6ab0;text-shadow:2.40px 0.00px 0 #fff,2.22px 0.92px 0 #fff,1.70px 1.70px 0 #fff,0.92px 2.22px 0 #fff,0.00px 2.40px 0 #fff,-0.92px 2.22px 0 #fff,-1.70px 1.70px 0 #fff,-2.22px 0.92px 0 #fff,-2.40px 0.00px 0 #fff,-2.22px -0.92px 0 #fff,-1.70px -1.70px 0 #fff,-0.92px -2.22px 0 #fff,-0.00px -2.40px 0 #fff,0.92px -2.22px 0 #fff,1.70px -1.70px 0 #fff,2.22px -0.92px 0 #fff,1px 3px 3px rgba(90,70,40,.45);">9230</div>
<div class="t" id="d2_3" style="left:280.52px;top:878.89px;font:700 25.07px/1 'DejaVu Sans',sans-serif;color:#1d6ab0;transform:scaleX(0.975);-webkit-text-stroke:1.7px #1d6ab0;text-shadow:2.40px 0.00px 0 #fff,2.22px 0.92px 0 #fff,1.70px 1.70px 0 #fff,0.92px 2.22px 0 #fff,0.00px 2.40px 0 #fff,-0.92px 2.22px 0 #fff,-1.70px 1.70px 0 #fff,-2.22px 0.92px 0 #fff,-2.40px 0.00px 0 #fff,-2.22px -0.92px 0 #fff,-1.70px -1.70px 0 #fff,-0.92px -2.22px 0 #fff,-0.00px -2.40px 0 #fff,0.92px -2.22px 0 #fff,1.70px -1.70px 0 #fff,2.22px -0.92px 0 #fff,1px 3px 3px rgba(90,70,40,.45);">6900</div>
<div class="t" id="d3" style="left:130.84px;top:908.62px;font:400 19.28px/1 'Liberation Sans',sans-serif;color:#2b629f;transform:scaleX(0.8577);">itaberaba.ba.gov.br/coronavirus/</div>
<div class="t" id="i1_0" style="left:424.94px;top:834.97px;font:700 30.27px/1 'DejaVu Sans',sans-serif;color:#1a74bb;transform:scaleX(0.9786);-webkit-text-stroke:1.6px #1a74bb;">I</div>
<div class="t" id="i1_1" style="left:436.71px;top:834.97px;font:700 30.27px/1 'DejaVu Sans',sans-serif;color:#1a74bb;transform:scaleX(1.1091);-webkit-text-stroke:1.6px #1a74bb;">T</div>
<div class="t" id="i1_2" style="left:456.05px;top:834.97px;font:700 30.27px/1 'DejaVu Sans',sans-serif;color:#1a74bb;transform:scaleX(1.05);-webkit-text-stroke:1.6px #1a74bb;">A</div>
<div class="t" id="i1_3" style="left:481.38px;top:834.97px;font:700 30.27px/1 'DejaVu Sans',sans-serif;color:#1a74bb;transform:scaleX(1.1875);-webkit-text-stroke:1.6px #1a74bb;">B</div>
<div class="t" id="i1_4" style="left:507.65px;top:834.97px;font:700 30.27px/1 'DejaVu Sans',sans-serif;color:#1a74bb;transform:scaleX(1.1765);-webkit-text-stroke:1.6px #1a74bb;">E</div>
<div class="t" id="i1_5" style="left:529.12px;top:834.97px;font:700 30.27px/1 'DejaVu Sans',sans-serif;color:#1a74bb;transform:scaleX(0.9909);-webkit-text-stroke:1.6px #1a74bb;">R</div>
<div class="t" id="i1_6" style="left:552.28px;top:834.97px;font:700 30.27px/1 'DejaVu Sans',sans-serif;color:#1a74bb;transform:scaleX(1.076);-webkit-text-stroke:1.6px #1a74bb;">A</div>
<div class="t" id="i1_7" style="left:576.9px;top:834.97px;font:700 30.27px/1 'DejaVu Sans',sans-serif;color:#1a74bb;transform:scaleX(1.2);-webkit-text-stroke:1.6px #1a74bb;">B</div>
<div class="t" id="i1_8" style="left:604.47px;top:834.97px;font:700 30.27px/1 'DejaVu Sans',sans-serif;color:#1a74bb;transform:scaleX(1.172);-webkit-text-stroke:1.6px #1a74bb;">A</div>
<div class="t" id="i2_0" style="left:434.01px;top:869.62px;font:700 22.53px/1 'DejaVu Sans',sans-serif;color:#fff;transform:scaleX(1.0919);color:#e6f1fa;-webkit-text-stroke:1.4px #e6f1fa;text-shadow:2.00px 0.00px 0 #2c6fa8,1.85px 0.77px 0 #2c6fa8,1.41px 1.41px 0 #2c6fa8,0.77px 1.85px 0 #2c6fa8,0.00px 2.00px 0 #2c6fa8,-0.77px 1.85px 0 #2c6fa8,-1.41px 1.41px 0 #2c6fa8,-1.85px 0.77px 0 #2c6fa8,-2.00px 0.00px 0 #2c6fa8,-1.85px -0.77px 0 #2c6fa8,-1.41px -1.41px 0 #2c6fa8,-0.77px -1.85px 0 #2c6fa8,-0.00px -2.00px 0 #2c6fa8,0.77px -1.85px 0 #2c6fa8,1.41px -1.41px 0 #2c6fa8,1.85px -0.77px 0 #2c6fa8;">NO</div>
<div class="t" id="i2_1" style="left:485.75px;top:869.62px;font:700 22.53px/1 'DejaVu Sans',sans-serif;color:#fff;transform:scaleX(1.1393);color:#e6f1fa;-webkit-text-stroke:1.4px #e6f1fa;text-shadow:2.00px 0.00px 0 #2c6fa8,1.85px 0.77px 0 #2c6fa8,1.41px 1.41px 0 #2c6fa8,0.77px 1.85px 0 #2c6fa8,0.00px 2.00px 0 #2c6fa8,-0.77px 1.85px 0 #2c6fa8,-1.41px 1.41px 0 #2c6fa8,-1.85px 0.77px 0 #2c6fa8,-2.00px 0.00px 0 #2c6fa8,-1.85px -0.77px 0 #2c6fa8,-1.41px -1.41px 0 #2c6fa8,-0.77px -1.85px 0 #2c6fa8,-0.00px -2.00px 0 #2c6fa8,0.77px -1.85px 0 #2c6fa8,1.41px -1.41px 0 #2c6fa8,1.85px -0.77px 0 #2c6fa8;">COMBATE</div>
<div class="t" id="i3_0" style="left:455.06px;top:897.5px;font:700 19.11px/1 'DejaVu Sans',sans-serif;color:#fff;transform:scaleX(1.1588);color:#e6f1fa;-webkit-text-stroke:1.4px #e6f1fa;text-shadow:2.00px 0.00px 0 #2c6fa8,1.85px 0.77px 0 #2c6fa8,1.41px 1.41px 0 #2c6fa8,0.77px 1.85px 0 #2c6fa8,0.00px 2.00px 0 #2c6fa8,-0.77px 1.85px 0 #2c6fa8,-1.41px 1.41px 0 #2c6fa8,-1.85px 0.77px 0 #2c6fa8,-2.00px 0.00px 0 #2c6fa8,-1.85px -0.77px 0 #2c6fa8,-1.41px -1.41px 0 #2c6fa8,-0.77px -1.85px 0 #2c6fa8,-0.00px -2.00px 0 #2c6fa8,0.77px -1.85px 0 #2c6fa8,1.41px -1.41px 0 #2c6fa8,1.85px -0.77px 0 #2c6fa8;">À</div>
<div class="t" id="i3_1" style="left:483.25px;top:897.5px;font:700 19.11px/1 'DejaVu Sans',sans-serif;color:#fff;transform:scaleX(1.2534);color:#e6f1fa;-webkit-text-stroke:1.4px #e6f1fa;text-shadow:2.00px 0.00px 0 #2c6fa8,1.85px 0.77px 0 #2c6fa8,1.41px 1.41px 0 #2c6fa8,0.77px 1.85px 0 #2c6fa8,0.00px 2.00px 0 #2c6fa8,-0.77px 1.85px 0 #2c6fa8,-1.41px 1.41px 0 #2c6fa8,-1.85px 0.77px 0 #2c6fa8,-2.00px 0.00px 0 #2c6fa8,-1.85px -0.77px 0 #2c6fa8,-1.41px -1.41px 0 #2c6fa8,-0.77px -1.85px 0 #2c6fa8,-0.00px -2.00px 0 #2c6fa8,0.77px -1.85px 0 #2c6fa8,1.41px -1.41px 0 #2c6fa8,1.85px -0.77px 0 #2c6fa8;">COVID-19</div>
<svg class="full" width="960" height="960" viewBox="0 0 960 960" style="pointer-events:none">
<g>
<circle cx="273.1" cy="854.2" r="12.4" fill="#e9f1f7"/>
<circle cx="273.1" cy="854.2" r="11.1" fill="#b4d5ee" stroke="#7da3c4" stroke-width="1.3"/>
<g stroke="#8fb6d6" stroke-width="0.9" fill="none" opacity="0.9">
<ellipse cx="273.1" cy="854.2" rx="5.00" ry="10.50"/>
<line x1="262.60" y1="850.32" x2="283.60" y2="850.32"/>
<line x1="262.60" y1="858.09" x2="283.60" y2="858.09"/>
</g>
<line x1="266.22" y1="861.08" x2="279.98" y2="847.32" stroke="#e8f3fb" stroke-width="2.4"/>
<line x1="266.22" y1="861.08" x2="279.98" y2="847.32" stroke="#6c93b8" stroke-width="0.8"/>
</g>

<g>
<circle cx="512.6" cy="906.6" r="10.9" fill="#e6f0f8"/>
<circle cx="512.6" cy="906.6" r="9.6" fill="#b4d5ee" stroke="#7da3c4" stroke-width="1.3"/>
<g stroke="#8fb6d6" stroke-width="0.9" fill="none" opacity="0.9">
<ellipse cx="512.6" cy="906.6" rx="4.32" ry="9.00"/>
<line x1="503.60" y1="903.24" x2="521.60" y2="903.24"/>
<line x1="503.60" y1="909.96" x2="521.60" y2="909.96"/>
</g>
<line x1="506.65" y1="912.55" x2="518.55" y2="900.65" stroke="#e8f3fb" stroke-width="2.4"/>
<line x1="506.65" y1="912.55" x2="518.55" y2="900.65" stroke="#6c93b8" stroke-width="0.8"/>
</g>

<g>
<circle cx="365.6" cy="889.8" r="12.3" fill="#fff"/>
<path d="M354,903.5 L356.5,893.5 L364,900 Z" fill="#fff" stroke="#fff" stroke-width="2.4" stroke-linejoin="round"/>
<circle cx="365.6" cy="889.8" r="10.6" fill="#27a52c"/>
<path d="M355.3,901.8 L357.6,894.3 L362.6,899 Z" fill="#27a52c"/>
<path d="M361.3,884.2 c1.1,-0.8 1.9,-0.6 2.4,0.4 l1,2.2 c0.3,0.7 0,1.3 -0.5,1.7 l-0.6,0.5 c0.8,1.8 2.1,3.1 3.9,3.9 l0.5,-0.6 c0.4,-0.5 1,-0.8 1.7,-0.5 l2.2,1 c1,0.5 1.2,1.3 0.4,2.4 c-1.5,1.9 -3.9,1.6 -6.3,0 c-2.2,-1.5 -4,-3.3 -5.3,-5.4 c-1.5,-2.4 -1.6,-4.5 0.6,-5.6 Z" fill="#fff"/>
</g>
</svg><svg class="full" width="960" height="960" viewBox="0 0 960 960">
<path d="M765,862 L718.02,863.31 L718.02,860.69 Z M765,862 L718.08,859.21 L718.31,856.60 Z M765,862 L718.50,855.13 L718.96,852.55 Z M765,862 L719.28,851.11 L719.96,848.57 Z M765,862 L720.40,847.16 L721.30,844.70 Z M765,862 L721.87,843.33 L722.97,840.96 Z M765,862 L723.66,839.65 L724.97,837.37 Z M765,862 L725.76,836.13 L727.27,833.98 Z M765,862 L728.17,832.81 L729.85,830.80 Z M765,862 L730.85,829.71 L732.71,827.85 Z M765,862 L733.80,826.85 L735.81,825.17 Z M765,862 L736.98,824.27 L739.13,822.76 Z M765,862 L740.37,821.97 L742.65,820.66 Z M765,862 L743.96,819.97 L746.33,818.87 Z M765,862 L747.70,818.30 L750.16,817.40 Z M765,862 L751.57,816.96 L754.11,816.28 Z M765,862 L755.55,815.96 L758.13,815.50 Z M765,862 L759.60,815.31 L762.21,815.08 Z M765,862 L763.69,815.02 L766.31,815.02 Z M765,862 L767.79,815.08 L770.40,815.31 Z M765,862 L771.87,815.50 L774.45,815.96 Z M765,862 L775.89,816.28 L778.43,816.96 Z M765,862 L779.84,817.40 L782.30,818.30 Z M765,862 L783.67,818.87 L786.04,819.97 Z M765,862 L787.35,820.66 L789.63,821.97 Z M765,862 L790.87,822.76 L793.02,824.27 Z M765,862 L794.19,825.17 L796.20,826.85 Z M765,862 L797.29,827.85 L799.15,829.71 Z M765,862 L800.15,830.80 L801.83,832.81 Z M765,862 L802.73,833.98 L804.24,836.13 Z M765,862 L805.03,837.37 L806.34,839.65 Z M765,862 L807.03,840.96 L808.13,843.33 Z M765,862 L808.70,844.70 L809.60,847.16 Z M765,862 L810.04,848.57 L810.72,851.11 Z M765,862 L811.04,852.55 L811.50,855.13 Z M765,862 L811.69,856.60 L811.92,859.21 Z M765,862 L811.98,860.69 L811.98,863.31 Z" fill="#ece6a6" opacity="0.6"/>
<path d="M721,862 A44,44 0 0 1 809,862 Z" fill="#f3ecb8" opacity="0.35"/>
<path d="M736,862 A29,29 0 0 1 794,862 Z" fill="#ecd27a"/>
<path d="M765,862 L736.03,863.26 L736.03,860.74 Z M765,862 L736.25,858.21 L736.69,855.72 Z M765,862 L737.34,853.28 L738.21,850.90 Z M765,862 L739.28,848.61 L740.54,846.42 Z M765,862 L741.99,844.35 L743.62,842.41 Z M765,862 L745.41,840.62 L747.35,838.99 Z M765,862 L749.42,837.54 L751.61,836.28 Z M765,862 L753.90,835.21 L756.28,834.34 Z M765,862 L758.72,833.69 L761.21,833.25 Z M765,862 L763.74,833.03 L766.26,833.03 Z M765,862 L768.79,833.25 L771.28,833.69 Z M765,862 L773.72,834.34 L776.10,835.21 Z M765,862 L778.39,836.28 L780.58,837.54 Z M765,862 L782.65,838.99 L784.59,840.62 Z M765,862 L786.38,842.41 L788.01,844.35 Z M765,862 L789.46,846.42 L790.72,848.61 Z M765,862 L791.79,850.90 L792.66,853.28 Z M765,862 L793.31,855.72 L793.75,858.21 Z M765,862 L793.97,860.74 L793.97,863.26 Z" fill="#f5e7a8"/>
<path d="M723.00,862.00 A42,42 0 0 1 807.00,862.00 L793.00,862.00 A28,28 0 0 0 737.00,862.00 Z" fill="#3d4ea3" stroke="#2a347e" stroke-width="1"/>
<path d="M723,862 L720,866 L730,863 L737,866 L737,862 Z" fill="#3d4ea3"/>
<path d="M807,862 L810,866 L800,863 L793,866 L793,862 Z" fill="#3d4ea3"/>
<path id="rib1" d="M730,862 A35,35 0 0 1 800,862" fill="none"/>
<text font-family="DejaVu Sans, sans-serif" font-weight="700" font-size="9" fill="#fff" letter-spacing="3.3" dy="3.2"><textPath href="#rib1" startOffset="50%" text-anchor="middle">ITABERABA</textPath></text>
<path d="M754.5,858 L754.5,850 A10.5,10.5 0 0 1 775.5,850 L775.5,858 Z" fill="#1f2b86"/>
<path d="M747.5,877.5 C752,872 753,866 756.5,858 C758.5,852 761,848.5 765,848.5 C769,848.5 771.5,852 773.5,858 C777,866 779,872 784,877.5 Z" fill="#fbfbfb" stroke="#9aa3a8" stroke-width="0.8"/>
<path d="M741,877.8 L789,877.8 L789,879.3 L767,879.3 L765,881 L763,879.3 L741,879.3 Z" fill="#2f9a5e"/>
<path d="M765,889.3 L779.5,913.5 L750.5,913.5 Z" fill="#1d9a4c" stroke="#fff" stroke-width="1"/>
<path d="M761.2,901.5 Q765,898.8 768.8,901.5 L767.8,908 L762.2,908 Z" fill="#fff"/>
<circle cx="765" cy="909" r="1.5" fill="#333"/>
<path d="M745,906 L746,896" stroke="#2e7d3a" stroke-width="1.5"/>
<path d="M746,896 L739,892 M746,896 L742,889 M746,896 L748,888 M746,896 L753,891 M746,896 L752,898 M746,896 L740,899" stroke="#2f8a3e" stroke-width="2.6" stroke-linecap="round"/>
<ellipse cx="745.5" cy="894" rx="5.5" ry="4" fill="#2f8a3e" opacity="0.8"/>
<ellipse cx="750" cy="899" rx="3" ry="3" fill="#3f9a4a" opacity="0.7"/>
<path d="M779,892 L789,902 M788,891 L780,903 M784,895 L786,905" stroke="#7d8a8f" stroke-width="1.2"/>
<path d="M780,890 L776,893" stroke="#2f7d3a" stroke-width="2"/>
<path d="M812.50,879.00 A47.5,47.5 0 0 1 717.50,879.00 L730.00,879.00 A35,35 0 0 0 800.00,879.00 Z" fill="#e2322f" stroke="#b5221f" stroke-width="0.8"/>
<path d="M717.5,879 C715,873 719,869.5 724,869.5 L729,873 L730,879 Z" fill="#d8302c"/>
<path d="M812.5,879 C815,873 811,869.5 806,869.5 L801,873 L800,879 Z" fill="#d8302c"/>
<path id="rib2" d="M723.8,879 A41.2,41.2 0 0 0 806.2,879" fill="none"/>
<text font-family="DejaVu Sans, sans-serif" font-weight="700" font-size="8.6" fill="#fff" letter-spacing="1.4" dy="3.1"><textPath href="#rib2" startOffset="50%" text-anchor="middle">26 MARÇO 1877</textPath></text>
</svg>
</body></html>
